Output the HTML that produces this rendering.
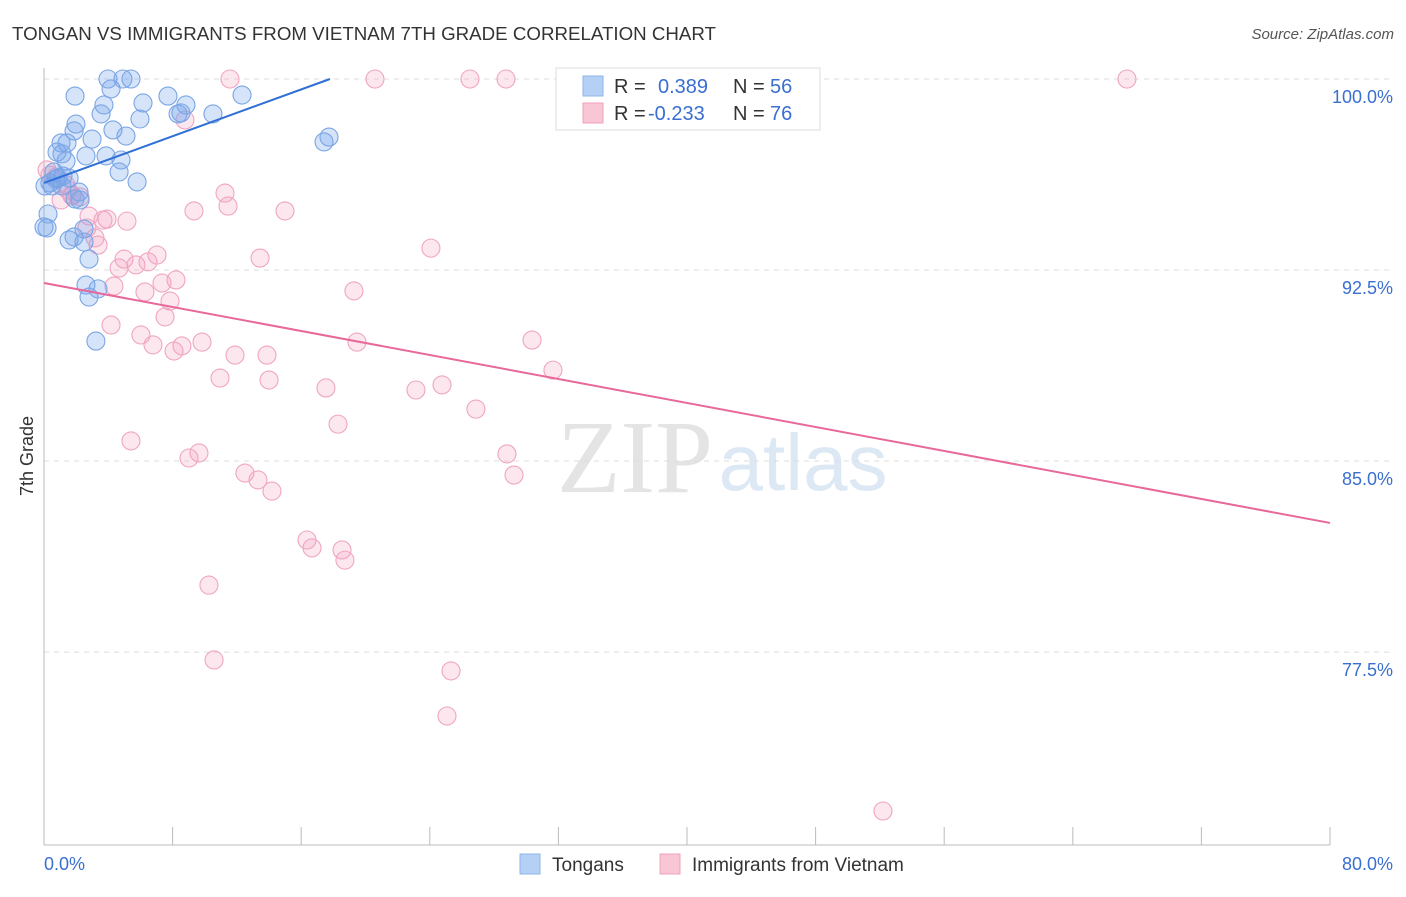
<!DOCTYPE html>
<html><head><meta charset="utf-8"><style>
body{margin:0;background:#fff;font-family:"Liberation Sans",sans-serif;}
</style></head><body>
<svg width="1406" height="892" xmlns="http://www.w3.org/2000/svg" font-family="Liberation Sans, sans-serif">
<text x="12" y="40" font-size="18" fill="#333" textLength="704" lengthAdjust="spacingAndGlyphs">TONGAN VS IMMIGRANTS FROM VIETNAM 7TH GRADE CORRELATION CHART</text>
<text x="1394" y="39" font-size="15" fill="#555" font-style="italic" text-anchor="end">Source: ZipAtlas.com</text>
<g>
<text x="635" y="492" font-size="104" fill="#e4e4e4" font-family="Liberation Serif, serif" text-anchor="middle">ZIP</text>
<text x="803" y="490" font-size="80" fill="#dde8f5" text-anchor="middle">atlas</text>
</g>
<g id="grid"></g>
<g id="axes"></g>
<g id="marks"></g>
<text transform="translate(33,456) rotate(-90)" font-size="18" fill="#333" text-anchor="middle">7th Grade</text>
<g>
<rect x="556" y="68" width="264" height="62" fill="#fff" stroke="#ddd"/>
<rect x="583" y="76" width="20" height="20" fill="#b5d0f5" stroke="#8fb5ea"/>
<rect x="583" y="103" width="20" height="20" fill="#f9c6d6" stroke="#f0a0bc"/>
<text x="614" y="93" font-size="20" fill="#333">R = </text><text x="658" y="93" font-size="20" fill="#3a6fd0">0.389</text>
<text x="733" y="93" font-size="20" fill="#333">N = </text><text x="770" y="93" font-size="20" fill="#3a6fd0">56</text>
<text x="614" y="120" font-size="20" fill="#333">R = </text><text x="648" y="120" font-size="20" fill="#3a6fd0">-0.233</text>
<text x="733" y="120" font-size="20" fill="#333">N = </text><text x="770" y="120" font-size="20" fill="#3a6fd0">76</text>
</g>
<g>
<rect x="520" y="854" width="20" height="20" fill="#b5d0f5" stroke="#8fb5ea"/>
<text x="552" y="871" font-size="19" fill="#333">Tongans</text>
<rect x="660" y="854" width="20" height="20" fill="#f9c6d6" stroke="#f0a0bc"/>
<text x="692" y="871" font-size="19" fill="#333">Immigrants from Vietnam</text>
</g>
</svg>
<script>
const blueX=[3.98,4.91,5.41,4.17,1.93,7.71,12.32,3.73,6.16,8.83,3.55,5.97,8.34,10.51,1.99,4.29,5.10,1.87,2.99,1.06,1.43,0.81,1.12,2.61,3.86,1.37,4.79,4.67,5.79,0.62,1.56,0.75,0.06,0.50,1.12,2.18,1.93,2.24,0.25,0.19,0.0,2.49,1.56,1.87,2.49,2.80,2.61,3.36,2.80,3.23,17.42,17.73,8.52,0.37,1.18,0.87];
const blueY=[100,100,100,99.61,99.33,99.33,99.37,98.98,99.06,98.98,98.63,98.43,98.63,98.63,98.23,98.0,97.76,97.96,97.64,97.49,97.49,97.13,97.06,96.98,96.98,96.78,96.82,96.35,95.96,96.35,96.11,96.07,95.80,95.80,95.80,95.56,95.29,95.25,94.70,94.15,94.19,94.11,93.68,93.80,93.60,92.93,91.91,91.76,91.44,89.71,97.53,97.72,98.67,95.92,96.19,96.11];
const pinkX=[11.57,20.59,26.50,28.74,43.30,67.37,8.77,0.19,0.75,1.37,1.74,2.24,1.06,11.26,11.45,9.33,14.99,2.80,3.67,3.92,5.16,2.67,3.17,3.36,24.07,7.03,4.98,6.47,13.44,4.67,5.72,8.21,4.35,7.34,6.28,7.84,19.28,7.53,4.17,6.03,6.78,9.83,8.58,8.09,11.88,13.87,19.47,30.36,31.66,10.95,14.00,17.54,23.14,24.76,26.87,18.29,5.41,9.64,9.02,28.80,29.24,12.50,13.31,14.18,16.36,16.67,18.54,18.72,10.26,10.58,25.32,25.07,52.19,1.74,1.49,0.37];
const pinkY=[100,100,100,100,100,100,98.39,96.43,96.15,95.84,95.41,95.37,95.25,95.52,95.01,94.82,94.82,94.62,94.46,94.50,94.42,94.15,93.76,93.48,93.36,93.09,92.93,92.82,92.97,92.58,92.70,92.11,91.87,91.99,91.64,91.28,91.68,90.66,90.34,89.95,89.56,89.67,89.52,89.32,89.16,89.16,89.67,89.75,88.57,88.26,88.18,87.87,87.79,87.99,87.04,86.45,85.79,85.32,85.12,85.28,84.45,84.53,84.26,83.82,81.90,81.59,81.51,81.11,80.13,77.19,76.76,74.99,71.26,95.45,95.64,96.23];
const blueTrendX=[0,17.79];
const blueTrendY=[95.92,100];
const pinkTrendX=[0,80];
const pinkTrendY=[91.99,82.57];
const yTicks=[100,92.5,85,77.5];
const yTickLabels=["100.0%","92.5%","85.0%","77.5%"];
const xTicks=[0,8,16,24,32,40,48,56,64,72,80];
const xLabels=["0.0%","80.0%"];

const NS="http://www.w3.org/2000/svg";
const sx=v=>44+v*16.075;
const sy=v=>79+(100-v)*25.47;
function mk(tag,attrs,parent){const e=document.createElementNS(NS,tag);for(const k in attrs)e.setAttribute(k,attrs[k]);parent.appendChild(e);return e;}
const grid=document.getElementById('grid'),axes=document.getElementById('axes'),marks=document.getElementById('marks');
yTicks.forEach((t,i)=>{
  const l=mk('line',{x1:44,x2:1394,y1:sy(t),y2:sy(t),stroke:'#ddd','stroke-dasharray':'5,5'},grid);
  
  
  const tx=mk('text',{x:1393,y:sy(t)+24,'font-size':18,fill:'#3a6fd0','text-anchor':'end'},axes);
  tx.textContent=yTickLabels[i];
  
  
});
let a=mk('line',{x1:44,x2:44,y1:68,y2:845,stroke:'#bbb'},axes);


a=mk('line',{x1:44,x2:1330,y1:845,y2:845,stroke:'#bbb'},axes);


xTicks.forEach(t=>{
  const l=mk('line',{x1:sx(t),x2:sx(t),y1:827,y2:845,stroke:'#bbb'},axes);
  
  
});
let xl=mk('text',{x:44,y:870,'font-size':18,fill:'#3a6fd0'},axes);xl.textContent=xLabels[0];


xl=mk('text',{x:1393,y:870,'font-size':18,fill:'#3a6fd0','text-anchor':'end'},axes);xl.textContent=xLabels[1];


pinkX.forEach((x,i)=>{
  const c=mk('circle',{cx:sx(x),cy:sy(pinkY[i]),r:9,fill:'rgba(245,160,190,0.25)',stroke:'#f0a5c0','stroke-width':1.1},marks);
  
  
});
blueX.forEach((x,i)=>{
  const c=mk('circle',{cx:sx(x),cy:sy(blueY[i]),r:9,fill:'rgba(120,165,235,0.3)',stroke:'#7aa5e5','stroke-width':1.1},marks);
  
  
});
let tl=mk('line',{x1:sx(pinkTrendX[0]),y1:sy(pinkTrendY[0]),x2:sx(pinkTrendX[1]),y2:sy(pinkTrendY[1]),stroke:'#e8689a','stroke-width':2},marks);


tl=mk('line',{x1:sx(blueTrendX[0]),y1:sy(blueTrendY[0]),x2:sx(blueTrendX[1]),y2:sy(blueTrendY[1]),stroke:'#2f6fd6','stroke-width':2},marks);


</script>
</body></html>
